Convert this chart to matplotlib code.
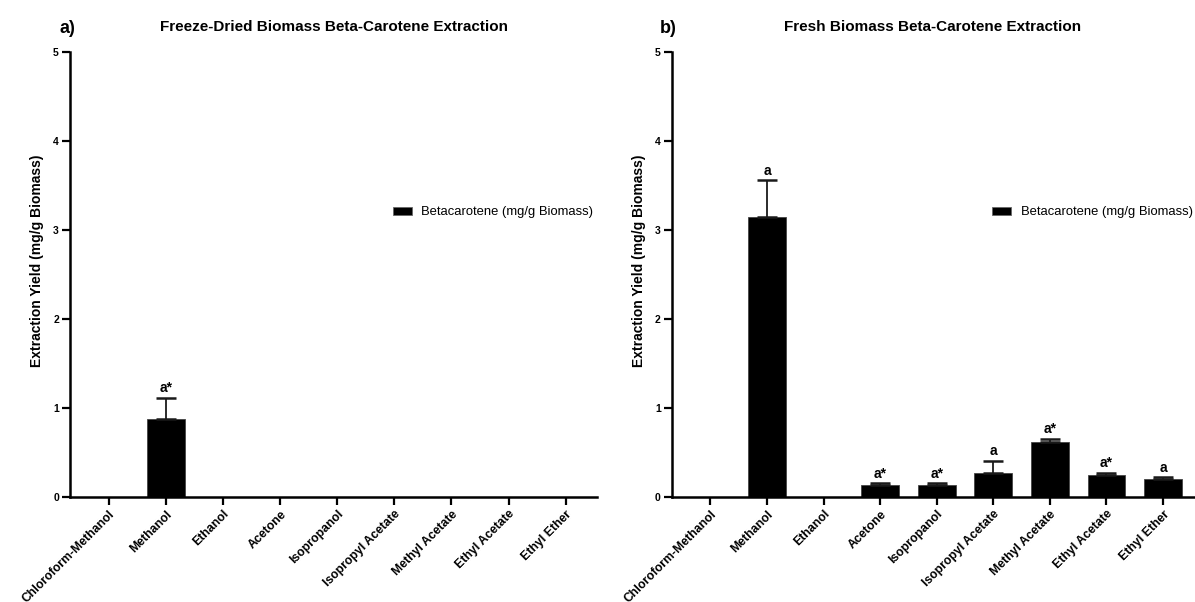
import numpy as np
import matplotlib
matplotlib.use('Agg')
import matplotlib.pyplot as plt
from matplotlib.patches import Patch

plt.rcParams['font.family'] = ['Liberation Sans', 'DejaVu Sans']

solvents = ['Chloroform-Methanol', 'Methanol', 'Ethanol', 'Acetone', 'Isopropanol',
            'Isopropyl Acetate', 'Methyl Acetate', 'Ethyl Acetate', 'Ethyl Ether']

# freeze-dried biomass
dried_vals = [0, 0.875, 0, 0, 0, 0, 0, 0, 0]
dried_err = [0, 0.24, 0, 0, 0, 0, 0, 0, 0]
dried_marks = ['', 'a*', '', '', '', '', '', '', '']

# fresh biomass
fresh_vals = [0, 3.15, 0, 0.13, 0.14, 0.27, 0.62, 0.25, 0.20]
fresh_err = [0, 0.41, 0, 0.025, 0.015, 0.135, 0.035, 0.025, 0.02]
fresh_marks = ['', 'a', '', 'a*', 'a*', 'a', 'a*', 'a*', 'a']

titles = ['Freeze-Dried Biomass Beta-Carotene Extraction', 'Fresh Biomass Beta-Carotene Extraction']
panel_tags = ['a)', 'b)']
legend_label = 'Betacarotene (mg/g Biomass)'
ylabel = 'Extraction Yield (mg/g Biomass)'

fig = plt.figure(figsize=(11.95, 6.02), dpi=100)
ax1 = fig.add_axes([0.0586, 0.1744, 0.441, 0.739])
ax2 = fig.add_axes([0.5623, 0.1744, 0.437, 0.739])


def draw_panel(ax, vals, err, marks, title, tag):
    x = np.arange(len(solvents))
    vals = np.array(vals)
    err = np.array(err)
    ax.bar(x, vals, width=0.67, color='black', edgecolor='#444444', linewidth=0.6, zorder=2)
    keep = err > 0
    ax.errorbar(x[keep], vals[keep], yerr=[np.zeros(keep.sum()), err[keep]], fmt='none',
                ecolor='#1a1a1a', elinewidth=1.3, capsize=7.2, capthick=1.8, zorder=3)
    for xi, v, e, m in zip(x, vals, err, marks):
        if m:
            ax.text(xi, v + e + 0.03, m, ha='center', va='bottom', fontsize=10, fontweight='bold')

    ax.set_xlim(-0.68, 8.55)
    ax.set_ylim(0, 5)
    ax.set_yticks([0, 1, 2, 3, 4, 5])
    ax.set_xticks(x)
    ax.set_xticklabels(solvents, rotation=45, ha='right', rotation_mode='anchor',
                       fontsize=8.8, fontweight='bold')
    for lab in ax.get_yticklabels():
        lab.set_fontweight('bold')
        lab.set_fontsize(7.5)
    ax.spines['top'].set_visible(False)
    ax.spines['right'].set_visible(False)
    ax.spines['left'].set_linewidth(1.8)
    ax.spines['bottom'].set_linewidth(1.8)
    ax.tick_params(axis='both', direction='out', length=6, width=1.6, pad=2)
    ax.set_ylabel(ylabel, fontsize=10, fontweight='bold')
    ax.yaxis.set_label_coords(-0.049, 0.53)
    ax.set_title(title, fontsize=11, fontweight='bold', pad=15)
    ax.text(0.01, 1.052, tag, transform=ax.transAxes, fontsize=13, fontweight='bold',
            ha='right', va='center')
    handle = Patch(facecolor='black', edgecolor='#666666', linewidth=0.6)
    ax.legend([handle], [legend_label], loc='center left', bbox_to_anchor=(0.59, 0.64),
              frameon=False, fontsize=9.4, handlelength=1.5, handleheight=0.6,
              handletextpad=0.7)


draw_panel(ax1, dried_vals, dried_err, dried_marks, titles[0], panel_tags[0])
draw_panel(ax2, fresh_vals, fresh_err, fresh_marks, titles[1], panel_tags[1])

fig.savefig('out.png', dpi=100)
